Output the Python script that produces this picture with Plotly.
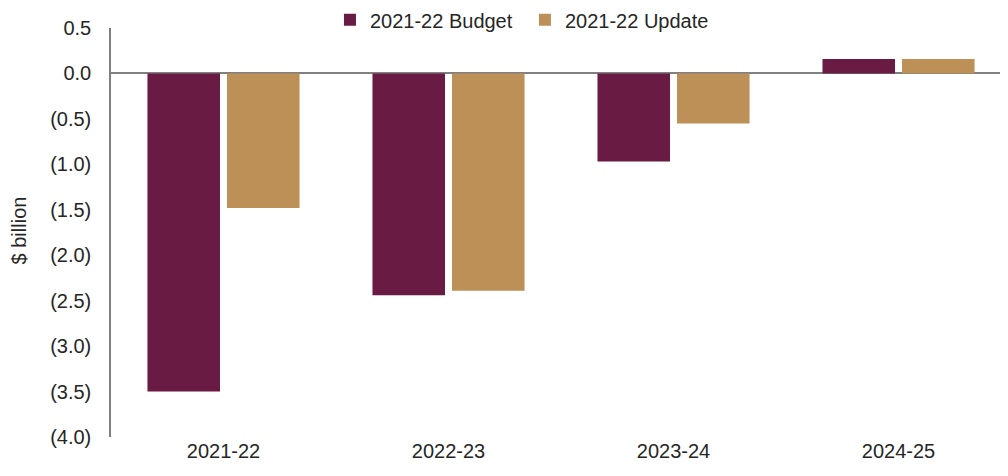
import plotly.graph_objects as go

# Fiscal years and the two estimate series ($ billion)
years = ["2021-22", "2022-23", "2023-24", "2024-25"]
budget = [-3.5, -2.44, -0.97, 0.16]
update = [-1.48, -2.39, -0.55, 0.16]

tick_vals = [0.5, 0.0, -0.5, -1.0, -1.5, -2.0, -2.5, -3.0, -3.5, -4.0]
tick_text = ["0.5", "0.0", "(0.5)", "(1.0)", "(1.5)", "(2.0)", "(2.5)", "(3.0)", "(3.5)", "(4.0)"]

MAROON = "#6A1B43"
TAN = "#BD9058"
TEXT = "#262626"
FONT = "Liberation Sans, Arial, sans-serif"
SIZE = 20

fig = go.Figure()
fig.add_trace(go.Bar(name="2021-22 Budget", x=years, y=budget,
                     marker=dict(color=MAROON, line=dict(width=0))))
fig.add_trace(go.Bar(name="2021-22 Update", x=years, y=update,
                     marker=dict(color=TAN, line=dict(width=0))))

fig.update_layout(
    width=1008, height=476,
    margin=dict(l=111, r=8, t=28, b=39, autoexpand=False),
    paper_bgcolor="white", plot_bgcolor="white",
    barmode="group", bargap=0.293, bargroupgap=0.088,
    font=dict(family=FONT, size=SIZE, color=TEXT),
    showlegend=True,
    legend=dict(orientation="h", x=0.2463, xanchor="left", y=1.02, yanchor="middle",
                font=dict(size=SIZE, color=TEXT), bgcolor="rgba(0,0,0,0)",
                itemwidth=30, entrywidth=150, entrywidthmode="pixels"),
)
fig.update_xaxes(range=[-0.5, 3.451], showline=False, showgrid=False, zeroline=False,
                 ticks="", tickfont=dict(size=SIZE, color=TEXT))
fig.update_yaxes(range=[-4.0, 0.5], tickvals=tick_vals, ticktext=tick_text,
                 showgrid=False, showline=True, linecolor="#808080", linewidth=1.5,
                 zeroline=True, zerolinecolor="#808080", zerolinewidth=1.5,
                 ticks="", ticklabelstandoff=14,
                 tickfont=dict(size=SIZE, color=TEXT))

# Vertical axis caption, placed in the left margin
fig.add_annotation(text="$ billion", textangle=-90, showarrow=False,
                   xref="paper", yref="paper", x=-0.1035, y=0.505,
                   xanchor="center", yanchor="middle",
                   font=dict(family=FONT, size=20, color=TEXT))

fig.write_html("out.html")
